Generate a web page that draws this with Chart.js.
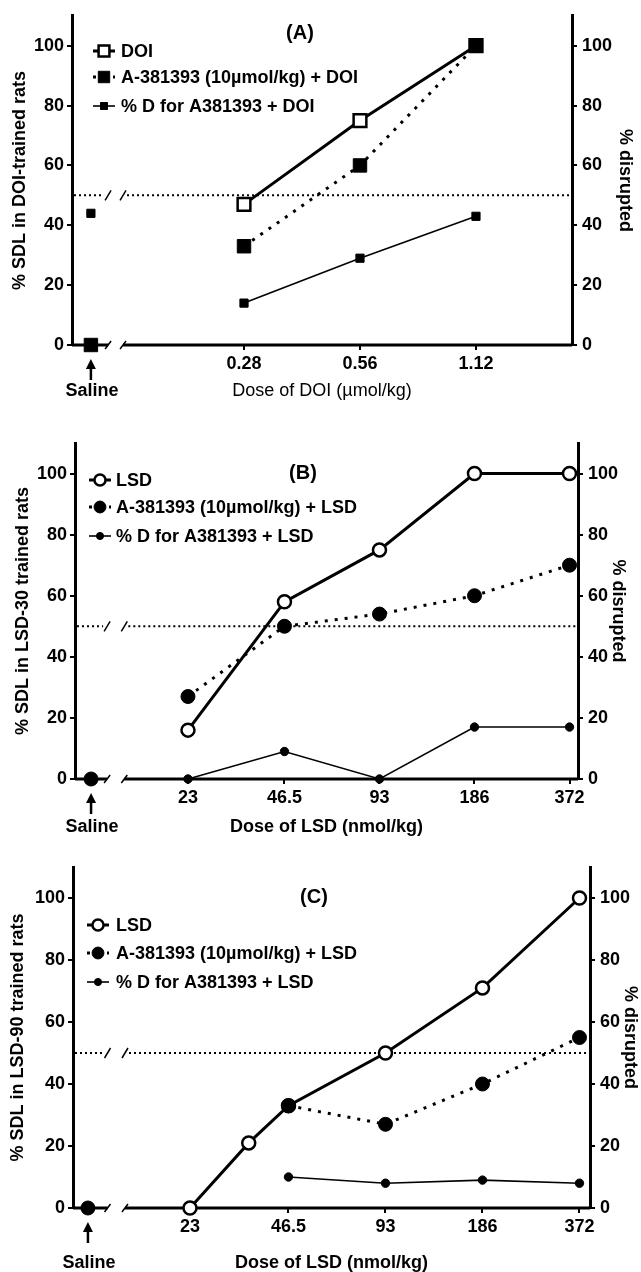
<!DOCTYPE html>
<html>
<head>
<meta charset="utf-8">
<script src="https://cdn.jsdelivr.net/npm/chart.js@4.4.1/dist/chart.umd.min.js"></script>
<style>
  body { margin: 0; background: #fff; }
  #lienzo { position: relative; width: 641px; height: 1272px; }
  canvas { position: absolute; left: 0; }
</style>
</head>
<body>
<div id="lienzo">
  <canvas id="panelA" width="641" height="410" style="top:0px"></canvas>
  <canvas id="panelB" width="641" height="420" style="top:420px"></canvas>
  <canvas id="panelC" width="641" height="422" style="top:850px"></canvas>
</div>
<script>
// Valores (porcentajes)
const yTicks = [0, 20, 40, 60, 80, 100];

// (A) ratas entrenadas con DOI
const doiDoses = [0.28, 0.56, 1.12];
const doiLabels = ['0.28', '0.56', '1.12'];
const doiSdl = [47, 75, 100];
const a381DoiSdl = [33, 60, 100];
const pctDDoi = [14, 29, 43];
const salineA381Doi = 0;
const salinePctDDoi = 44;

// (B) ratas entrenadas con LSD-30
const lsdDoses = [23, 46.5, 93, 186, 372];
const lsdLabels = ['23', '46.5', '93', '186', '372'];
const lsd30Sdl = [16, 58, 75, 100, 100];
const a381Lsd30Sdl = [27, 50, 54, 60, 70];
const pctDLsd30 = [0, 9, 0, 17, 17];
const salineA381Lsd30 = 0;

// (C) ratas entrenadas con LSD-90
const lsd90Doses = [23, 35, 46.5, 93, 186, 372];
const lsd90Sdl = [0, 21, 33, 50, 71, 100];
const a381Lsd90Doses = [46.5, 93, 186, 372];
const a381Lsd90Sdl = [33, 27, 40, 55];
const pctDLsd90Doses = [46.5, 93, 186, 372];
const pctDLsd90 = [10, 8, 9, 8];
const salineA381Lsd90 = 0;

const fuente = '"Liberation Sans", Arial, Helvetica, sans-serif';
Chart.defaults.font.family = fuente;
Chart.defaults.font.weight = 'bold';
Chart.defaults.font.size = 18;
Chart.defaults.color = '#000';

// posición en el eje x: escala logarítmica base 2 respecto a la primera dosis
const posicion = (dosis, base) => Math.log2(dosis / base);
const puntos = (dosis, valores, base) => dosis.map((d, i) => ({ x: posicion(d, base), y: valores[i] }));

// estilos de las series
function serieAbierta(label, data, forma) {
    return {
        label, data, borderColor: '#000', borderWidth: 3,
        pointStyle: forma, pointRadius: forma === 'rect' ? 9 : 6.5,
        pointBackgroundColor: '#fff', pointBorderColor: '#000', pointBorderWidth: 2.5,
        yAxisID: 'y', clip: false
    };
}
function serieTrazos(label, data, forma) {
    return {
        label, data, borderColor: '#000', borderWidth: 3, borderDash: [3, 7],
        pointStyle: forma, pointRadius: forma === 'rect' ? 9.5 : 7,
        pointBackgroundColor: '#000', pointBorderColor: '#000', pointBorderWidth: 1,
        yAxisID: 'y', clip: false
    };
}
function serieFina(label, data, forma) {
    return {
        label, data, borderColor: '#000', borderWidth: 1.6,
        pointStyle: forma, pointRadius: forma === 'rect' ? 5.8 : 4.2,
        pointBackgroundColor: '#000', pointBorderColor: '#000', pointBorderWidth: 1,
        yAxisID: 'y2', clip: false
    };
}

// ejes cortados, línea del 50 %, leyenda, título y la etiqueta Saline
const decoracion = {
    id: 'decoracion',
    beforeDatasetsDraw(chart, args, o) {
        const { ctx, chartArea } = chart;
        const sx = chart.scales.x, sy = chart.scales.y;
        const y0 = sy.getPixelForValue(0);
        const y50 = sy.getPixelForValue(50);
        const b1 = sx.getPixelForValue(o.corte[0]);
        const b2 = sx.getPixelForValue(o.corte[1]);
        ctx.save();
        ctx.strokeStyle = '#000';
        ctx.lineWidth = 3;
        ctx.beginPath();
        ctx.moveTo(chartArea.left, y0); ctx.lineTo(b1, y0);
        ctx.moveTo(b2, y0); ctx.lineTo(chartArea.right, y0);
        ctx.stroke();
        ctx.lineWidth = 1.5;
        [b1, b2].forEach(b => {
            ctx.beginPath(); ctx.moveTo(b - 3, y0 + 4); ctx.lineTo(b + 3, y0 - 4); ctx.stroke();
            ctx.beginPath(); ctx.moveTo(b - 3, y50 + 5); ctx.lineTo(b + 3, y50 - 5); ctx.stroke();
        });
        ctx.lineWidth = 2;
        ctx.setLineDash([2, 3]);
        ctx.beginPath();
        ctx.moveTo(chartArea.left + 2, y50); ctx.lineTo(b1 - 4, y50);
        ctx.moveTo(b2 + 4, y50); ctx.lineTo(chartArea.right, y50);
        ctx.stroke();
        ctx.restore();
    },
    afterDraw(chart, args, o) {
        const { ctx } = chart;
        const sx = chart.scales.x, sy = chart.scales.y;
        const y0 = sy.getPixelForValue(0);
        const xs = sx.getPixelForValue(o.saline);
        ctx.save();
        ctx.fillStyle = '#000';
        ctx.strokeStyle = '#000';
        ctx.textBaseline = 'middle';

        // título del panel
        ctx.font = `bold 20px ${fuente}`;
        ctx.textAlign = 'center';
        ctx.fillText(o.titulo, o.tituloX, o.tituloY);

        // flecha y texto Saline
        ctx.beginPath();
        ctx.moveTo(xs, y0 + 14); ctx.lineTo(xs - 5, y0 + 24); ctx.lineTo(xs + 5, y0 + 24);
        ctx.closePath(); ctx.fill();
        ctx.lineWidth = 2.5;
        ctx.beginPath(); ctx.moveTo(xs, y0 + 22); ctx.lineTo(xs, y0 + 35); ctx.stroke();
        ctx.font = `bold 18px ${fuente}`;
        ctx.fillText('Saline', xs + 1, o.salineY);

        // leyenda: línea corta con el marcador al centro
        o.leyenda.forEach((idx, i) => {
            const ds = chart.data.datasets[idx];
            const ly = o.leyendaY[i];
            const cx = o.leyendaX;
            ctx.save();
            ctx.lineWidth = ds.borderWidth;
            ctx.setLineDash(ds.borderDash || []);
            ctx.beginPath(); ctx.moveTo(cx - 11, ly); ctx.lineTo(cx + 11, ly); ctx.stroke();
            ctx.restore();
            ctx.fillStyle = ds.pointBackgroundColor;
            ctx.lineWidth = ds.pointBorderWidth;
            Chart.helpers.drawPoint(ctx, {
                pointStyle: ds.pointStyle, radius: ds.pointRadius * 0.85,
                borderWidth: ds.pointBorderWidth, rotation: 0
            }, cx, ly);
            ctx.fillStyle = '#000';
            ctx.textAlign = 'left';
            ctx.fillText(ds.label, o.textoX, ly + 1);
        });
        ctx.restore();
    }
};

function panel(id, p) {
    const tickX = p.doses.map(d => posicion(d, p.base));
    new Chart(document.getElementById(id), {
        type: 'line',
        data: { datasets: p.series },
        plugins: [decoracion],
        options: {
            responsive: false,
            animation: false,
            devicePixelRatio: 1,
            layout: { padding: { top: p.arriba, left: 0, right: 0, bottom: 0 } },
            plugins: {
                legend: { display: false },
                tooltip: { enabled: false },
                decoracion: p.deco
            },
            elements: { line: { tension: 0 } },
            scales: {
                x: {
                    type: 'linear', min: p.xMin, max: p.xMax,
                    afterBuildTicks: s => { s.ticks = tickX.map(v => ({ value: v })); },
                    afterFit: s => { s.height = p.altoX; },
                    ticks: { autoSkip: false, maxRotation: 0, padding: 3, callback: (v, i) => p.etiquetas[i] },
                    grid: { drawOnChartArea: false, drawTicks: true, tickLength: 5, color: '#000', lineWidth: 2 },
                    border: { display: false },
                    title: {
                        display: true, text: p.tituloX, padding: { top: 0, bottom: p.padTituloX },
                        font: { lineHeight: 1, weight: p.pesoTituloX || 'bold' }
                    }
                },
                y: {
                    position: 'left', min: 0, max: 110,
                    afterBuildTicks: s => { s.ticks = yTicks.map(v => ({ value: v })); },
                    afterFit: s => { s.width = p.anchoIzq; },
                    ticks: { padding: 3 },
                    grid: { drawOnChartArea: false, tickLength: 5, color: '#000', lineWidth: 2 },
                    border: { width: 3, color: '#000' },
                    title: { display: true, text: p.tituloY, padding: { top: p.padTituloY, bottom: 0 }, font: { lineHeight: 1 } }
                },
                y2: {
                    position: 'right', min: 0, max: 110,
                    afterBuildTicks: s => { s.ticks = yTicks.map(v => ({ value: v })); },
                    afterFit: s => { s.width = p.anchoDer; },
                    ticks: { padding: 5 },
                    grid: { drawOnChartArea: false, tickLength: 5, color: '#000', lineWidth: 2 },
                    border: { width: 3, color: '#000' },
                    title: { display: true, text: '% disrupted', padding: { top: p.padTituloDer, bottom: 0 }, font: { lineHeight: 1 } }
                }
            }
        }
    });
}

// Panel A
const baseA = doiDoses[0];
const salineXA = -1.32;
panel('panelA', {
    base: baseA, doses: doiDoses, etiquetas: doiLabels,
    xMin: -1.483, xMax: 2.828, arriba: 13, altoX: 65, padTituloX: 10,
    anchoIzq: 72, anchoDer: 69, padTituloY: 11, padTituloDer: 7,
    tituloX: 'Dose of DOI (\u00b5mol/kg)', pesoTituloX: 'normal', tituloY: '% SDL in DOI-trained rats',
    series: [
        { ...serieTrazos('', [{ x: salineXA, y: salineA381Doi }], 'rect'), showLine: false },
        serieTrazos('A-381393 (10\u00b5mol/kg) + DOI', puntos(doiDoses, a381DoiSdl, baseA), 'rect'),
        serieAbierta('DOI', puntos(doiDoses, doiSdl, baseA), 'rect'),
        serieFina('% D for A381393 + DOI', puntos(doiDoses, pctDDoi, baseA), 'rect'),
        { ...serieFina('', [{ x: salineXA, y: salinePctDDoi }], 'rect'), showLine: false }
    ],
    deco: {
        corte: [-1.172, -1.043], saline: salineXA, salineY: 391,
        titulo: '(A)', tituloX: 300, tituloY: 33,
        leyenda: [2, 1, 3], leyendaX: 104, textoX: 121, leyendaY: [51, 77, 106]
    }
});

// Panel B
const baseB = lsdDoses[0];
const salineXB = -1.02;
panel('panelB', {
    base: baseB, doses: lsdDoses, etiquetas: lsdLabels,
    xMin: -1.189, xMax: 4.105, arriba: 23, altoX: 61, padTituloX: 4,
    anchoIzq: 75, anchoDer: 63, padTituloY: 14, padTituloDer: 14,
    tituloX: 'Dose of LSD (nmol/kg)', tituloY: '% SDL in LSD-30 trained rats',
    series: [
        { ...serieTrazos('', [{ x: salineXB, y: salineA381Lsd30 }], 'circle'), showLine: false },
        serieTrazos('A-381393 (10\u00b5mol/kg) + LSD', puntos(lsdDoses, a381Lsd30Sdl, baseB), 'circle'),
        serieAbierta('LSD', puntos(lsdDoses, lsd30Sdl, baseB), 'circle'),
        serieFina('% D for A381393 + LSD', puntos(lsdDoses, pctDLsd30, baseB), 'circle')
    ],
    deco: {
        corte: [-0.851, -0.67], saline: salineXB, salineY: 407,
        titulo: '(B)', tituloX: 303, tituloY: 53,
        leyenda: [2, 1, 3], leyendaX: 100, textoX: 116, leyendaY: [60, 87, 116]
    }
});

// Panel C
const baseC = lsd90Doses[0];
const salineXC = -1.052;
panel('panelC', {
    base: baseC, doses: lsdDoses, etiquetas: lsdLabels,
    xMin: -1.206, xMax: 4.124, arriba: 17, altoX: 64, padTituloX: 0,
    anchoIzq: 73, anchoDer: 51, padTituloY: 9, padTituloDer: 2,
    tituloX: 'Dose of LSD (nmol/kg)', tituloY: '% SDL in LSD-90 trained rats',
    series: [
        { ...serieTrazos('', [{ x: salineXC, y: salineA381Lsd90 }], 'circle'), showLine: false },
        serieTrazos('A-381393 (10\u00b5mol/kg) + LSD', puntos(a381Lsd90Doses, a381Lsd90Sdl, baseC), 'circle'),
        serieAbierta('LSD', puntos(lsd90Doses, lsd90Sdl, baseC), 'circle'),
        serieFina('% D for A381393 + LSD', puntos(pctDLsd90Doses, pctDLsd90, baseC), 'circle')
    ],
    deco: {
        corte: [-0.85, -0.67], saline: salineXC, salineY: 413,
        titulo: '(C)', tituloX: 314, tituloY: 47,
        leyenda: [2, 1, 3], leyendaX: 98, textoX: 116, leyendaY: [75, 103, 132]
    }
});
</script>
</body>
</html>
